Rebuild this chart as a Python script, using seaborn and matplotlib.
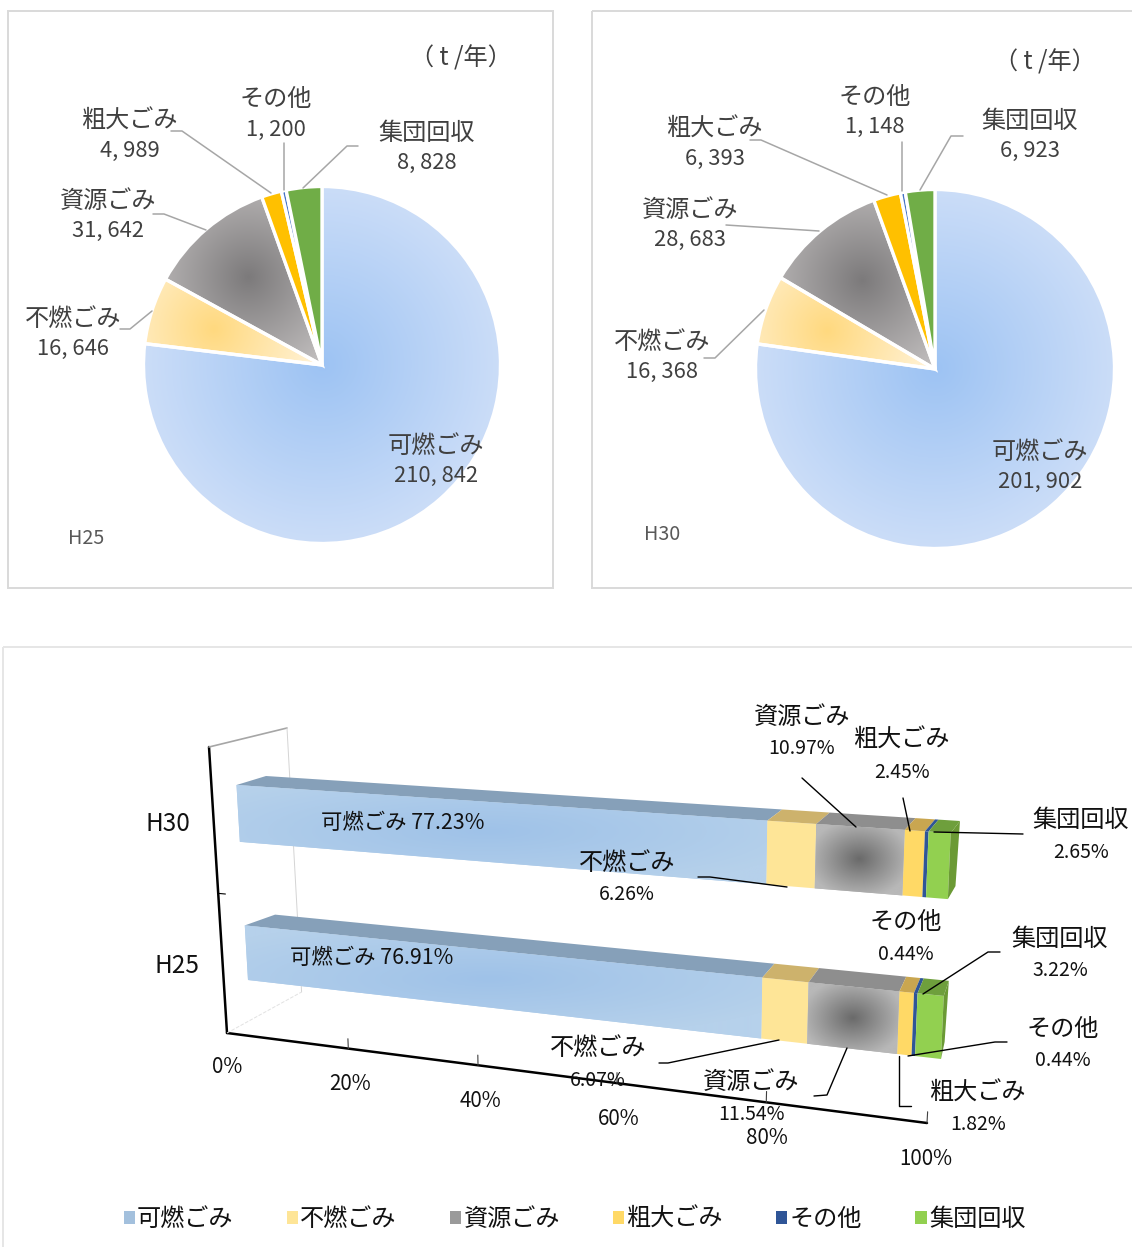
import numpy as np
import matplotlib
matplotlib.use("Agg")
import matplotlib.pyplot as plt
import matplotlib.transforms as mtransforms
from matplotlib.colors import LinearSegmentedColormap
from matplotlib.patches import Rectangle, Polygon, Patch
import seaborn as sns

# data
categories = ["可燃ごみ", "不燃ごみ", "資源ごみ", "粗大ごみ", "その他", "集団回収"]
tons_h25 = [210842, 16646, 31642, 4989, 1200, 8828]
tons_h30 = [201902, 16368, 28683, 6393, 1148, 6923]
years = ["H30", "H25"]
share_h30 = [77.23, 6.26, 10.97, 2.45, 0.44, 2.65]
share_h25 = [76.91, 6.07, 11.54, 1.82, 0.44, 3.22]
pct_ticks = [0, 20, 40, 60, 80, 100]

# colours
pie_solid = {"粗大ごみ": "#FFC000", "その他": "#4472C4", "集団回収": "#70AD47"}
pie_grad = {"可燃ごみ": ("#9DC3F3", "#CBDDF8", 1.0),
            "不燃ごみ": ("#FFD97F", "#FFF3D9", 0.62),
            "資源ごみ": ("#7C7A7B", "#C2BFBF", 0.62)}
front_cols = ["#B0CDE9", "#FEE597", "#B4B4B4", "#FFD966", "#2F5597", "#92D050"]
top_cols = ["#86A0B9", "#CDB26C", "#8E8E8E", "#C9A650", "#2F5597", "#6E9F3C"]
legend_cols = ["#A3C0DD", "#FEE597", "#9A9A9A", "#FFD966", "#2F5597", "#92D050"]

W, H = 1132, 1247
sns.set_theme(style="white")
plt.rcParams["font.family"] = ["Noto Sans CJK JP", "DejaVu Sans"]

fig = plt.figure(figsize=(W / 100, H / 100), dpi=100, facecolor="white")


def radial(d, inner, outer):
    cmap = LinearSegmentedColormap.from_list("g", [inner, outer])
    return cmap(np.clip(d, 0, 1))


def draw_pie(values, cx, cy, r):
    m = 4
    ax = fig.add_axes([(cx - r - m) / W, 1 - (cy + r + m) / H, 2 * (r + m) / W, 2 * (r + m) / H], zorder=1)
    wedges, _ = ax.pie(values, startangle=90, counterclock=False, radius=1,
                       colors=[pie_solid.get(c, "white") for c in categories],
                       wedgeprops={"edgecolor": "white", "linewidth": 2.4})
    lim = 1 + m / r
    xx, yy = np.meshgrid(np.linspace(-lim, lim, 400), np.linspace(lim, -lim, 400))
    for wedge, cat in zip(wedges, categories):
        wedge.set_zorder(3)
        if cat not in pie_grad:
            continue
        inner, outer, reach = pie_grad[cat]
        if cat == "可燃ごみ":
            gx, gy = 0.0, 0.0
        else:
            mid = np.radians((wedge.theta1 + wedge.theta2) / 2)
            gx, gy = 0.64 * np.cos(mid), 0.64 * np.sin(mid)
        img = radial(np.hypot(xx - gx, yy - gy) / reach, inner, outer)
        im = ax.imshow(img, extent=(-lim, lim, -lim, lim), zorder=2, interpolation="bilinear")
        im.set_clip_path(wedge.get_path(), wedge.get_transform())
        wedge.set_facecolor("none")
    ax.set_xlim(-lim, lim)
    ax.set_ylim(-lim, lim)
    ax.set_axis_off()


draw_pie(tons_h25, 322, 365, 178.5)
draw_pie(tons_h30, 935, 369, 179.5)


# perspective for the 3D looking bars
def homography(src, dst):
    a = []
    b = []
    for (x, y), (u, v) in zip(src, dst):
        a.append([x, y, 1, 0, 0, 0, -u * x, -u * y])
        a.append([0, 0, 0, x, y, 1, -v * x, -v * y])
        b += [u, v]
    return np.append(np.linalg.solve(np.array(a, float), np.array(b, float)), 1).reshape(3, 3)


class Persp(mtransforms.Transform):
    input_dims = 2
    output_dims = 2

    def __init__(self, m):
        super().__init__()
        self.m = m

    def transform_non_affine(self, xy):
        xy = np.asarray(xy, float)
        p = np.column_stack([xy, np.ones(len(xy))]) @ self.m.T
        return p[:, :2] / p[:, 2:]


corners = [(0, -0.2), (0, 1.2), (100, -0.2), (100, 1.2)]
front = Persp(homography(corners, [(236.5, 785), (248, 980), (950.7, 833), (941, 1059)]))
back = Persp(homography(corners, [(266, 776), (278.6, 968), (960, 821), (944.6, 1042)]))
axis_plane = Persp(homography([(0, -0.5), (0, 1.5), (100, -0.5), (100, 1.5)],
                              [(209, 747), (227, 1033), (946, 784), (927, 1123)]))

px = fig.add_axes([0, 0, 1, 1], zorder=2)
px.patch.set_visible(False)
px.set_axis_off()

bar_ax = fig.add_axes([0, 0, 1, 1], zorder=1)
bar_ax.patch.set_visible(False)
shares = np.array([share_h30, share_h25])
lefts = np.hstack([np.zeros((2, 1)), np.cumsum(shares, axis=1)[:, :-1]])
for i, cat in enumerate(categories):
    n = len(bar_ax.patches)
    sns.barplot(x=shares[:, i], y=years, left=lefts[:, i], color=front_cols[i], saturation=1,
                width=0.4, orient="y", errorbar=None, ax=bar_ax)
    for bar in bar_ax.patches[n:]:
        bar.set_transform(front + px.transData)
        bar.set_clip_on(False)
        bar.set_linewidth(0)
all_bars = list(bar_ax.patches)
bar_ax.set_axis_off()

# top faces, end faces
for row in range(2):
    top = row - 0.2
    for i in range(len(categories)):
        a, b = lefts[row, i], lefts[row, i] + shares[row, i]
        pts = np.vstack([front.transform_non_affine(np.array([[a, top], [b, top]])),
                         back.transform_non_affine(np.array([[b, top], [a, top]]))])
        px.add_patch(Polygon(pts, closed=True, facecolor=top_cols[i], edgecolor="none", zorder=1))
    side = np.vstack([front.transform_non_affine(np.array([[100, top], [100, top + 0.4]])),
                      back.transform_non_affine(np.array([[100, top + 0.4], [100, top]]))])
    px.add_patch(Polygon(side, closed=True, facecolor="#6B9A35", edgecolor="none", zorder=1))

# gradient on the blue and grey front faces
for row in range(2):
    for i, inner, outer, rx, ry in [(0, "#9FC2E8", "#B6D1EB", 330, 60), (2, "#6A6A6A", "#B8B8B8", 52, 40)]:
        bar = all_bars[i * 2 + row]
        a, b = lefts[row, i], lefts[row, i] + shares[row, i]
        quad = front.transform_non_affine(np.array([[a, row - 0.2], [b, row - 0.2], [b, row + 0.2], [a, row + 0.2]]))
        gc = front.transform_non_affine(np.array([[(a + b) / 2, float(row)]]))[0]
        x0, y0 = quad.min(axis=0) - 3
        x1, y1 = quad.max(axis=0) + 3
        xx, yy = np.meshgrid(np.linspace(x0, x1, 500), np.linspace(y0, y1, 120))
        img = radial(np.hypot((xx - gc[0]) / rx, (yy - gc[1]) / ry), inner, outer)
        im = px.imshow(img, extent=(x0, x1, y1, y0), aspect="auto", zorder=2, interpolation="bilinear")
        im.set_clip_path(bar.get_path(), bar.get_transform())

# axis lines
axis_tr = axis_plane + px.transData
bar_ax.plot([0, 100], [1.5, 1.5], color="black", lw=1.8, transform=axis_tr, clip_on=False)
bar_ax.plot([0, 0], [-0.5, 1.5], color="black", lw=1.8, transform=axis_tr, clip_on=False)
bar_ax.plot([0, 1.2], [0.5, 0.5], color="black", lw=0.8, transform=axis_tr, clip_on=False)
for t in pct_ticks[1:]:
    bar_ax.plot([t, t], [1.43, 1.5], color="#404040", lw=0.8, transform=axis_tr, clip_on=False)
bar_ax.set_xlim(0, 100)
bar_ax.set_ylim(1.5, -0.5)

# 3D box back wall
px.plot([209, 287], [747, 728], color="#A6A6A6", lw=1.2, zorder=0.5)
px.plot([287, 301.6], [728, 992], color="#D4D4D4", lw=0.7, zorder=0.5)
px.plot([227, 301.6], [1033, 992], color="#E2E2E2", lw=0.7, ls="--", zorder=0.5)

# panel borders
for x0, y0, x1, y1, c in [(8, 11, 553, 588, "#D9D9D9"), (592, 11, 1140, 588, "#D9D9D9"),
                          (3, 647, 1140, 1255, "#E6E6E6")]:
    px.add_patch(Rectangle((x0, y0), x1 - x0, y1 - y0, fill=False, edgecolor=c, lw=1.4, zorder=0.5))


def jp(x, y, s, color="#404040", size=17.4):
    px.text(x, y + 2, s, ha="center", va="center", fontsize=size, color=color, zorder=6)


def num(x, y, s, color="#404040", size=15.8):
    px.text(x, y + 2, s, ha="center", va="center", fontsize=size, color=color, zorder=6)


def pair(x, y_top, y_bot, name, s, color="#404040", size=15.8):
    jp(x, y_top, name, color)
    num(x, y_bot, s, color, size)


def fmt(v):
    return f"{v:,}".replace(",", ", ")


# pie labels
pie_pos_h25 = [(436, 444, 474), (73, 317, 347), (108, 199, 229), (130, 119, 149), (276, 97, 128), (427, 131, 161)]
pie_pos_h30 = [(1040, 450, 480), (662, 340, 370), (690, 208, 238), (715, 127, 157), (875, 95, 125), (1030, 119, 149)]
for pos, vals in [(pie_pos_h25, tons_h25), (pie_pos_h30, tons_h30)]:
    for (x, y0, y1), cat, v in zip(pos, categories, vals):
        pair(x, y0, y1, cat, fmt(v))
jp(461, 57, "（ t /年）", size=17.4)
jp(1045, 61, "（ t /年）", size=17.4)
num(86, 537, "H25", "#595959", 14.2)
num(662, 532, "H30", "#595959", 14.2)

pie_leaders = [
    [(171, 131), (182, 131), (271, 193)],
    [(284, 143), (284, 190)],
    [(358, 146), (347, 146), (303, 188)],
    [(153, 214), (164, 214), (206, 230)],
    [(120, 329), (130, 329), (152, 311)],
    [(750, 140), (761, 140), (887, 195)],
    [(902, 142), (902, 191)],
    [(963, 136), (951, 136), (920, 190)],
    [(726, 225), (819, 231)],
    [(704, 358), (715, 358), (764, 310)],
]
for line in pie_leaders:
    xs, ys = zip(*line)
    px.plot(xs, ys, color="#A6A6A6", lw=1.1, zorder=5)

# bar labels
bar_pos_h30 = {"不燃ごみ": (627, 861, 893), "資源ごみ": (802, 715, 747), "粗大ごみ": (902, 738, 770),
               "その他": (906, 920, 952), "集団回収": (1081, 818, 850)}
bar_pos_h25 = {"不燃ごみ": (598, 1046, 1078), "資源ごみ": (751, 1080, 1112), "粗大ごみ": (978, 1091, 1123),
               "その他": (1063, 1027, 1058), "集団回収": (1060, 937, 969)}
for pos, vals in [(bar_pos_h30, share_h30), (bar_pos_h25, share_h25)]:
    for cat, v in zip(categories, vals):
        if cat in pos:
            x, y0, y1 = pos[cat]
            pair(x, y0, y1, cat, f"{v:.2f}%", "#111111", 14)

px.text(403, 823, f"可燃ごみ {share_h30[0]:.2f}%", ha="center", va="center", fontsize=15.4, color="#111111", zorder=6)
px.text(372, 958, f"可燃ごみ {share_h25[0]:.2f}%", ha="center", va="center", fontsize=15.4, color="#111111", zorder=6)

num(168, 822, years[0], "#111111", 17.5)
num(177, 964, years[1], "#111111", 17.5)
tick_pos = [(227, 1065), (350, 1082), (480, 1099), (619, 1117), (767, 1136), (926, 1157)]
for (x, y), t in zip(tick_pos, pct_ticks):
    num(x, y, f"{t}%", "#111111", 14.8)

bar_leaders = [
    [(802, 778), (856, 827)],
    [(903, 798), (910, 831)],
    [(1023, 834), (934, 832)],
    [(698, 877), (710, 877), (787, 887)],
    [(1000, 952), (988, 952), (923, 994)],
    [(1007, 1042), (995, 1042), (908, 1056)],
    [(899, 1056), (899, 1106), (911, 1106)],
    [(847, 1048), (827, 1095), (814, 1096)],
    [(779, 1040), (668, 1063), (659, 1063)],
]
for line in bar_leaders:
    xs, ys = zip(*line)
    px.plot(xs, ys, color="black", lw=1.0, zorder=5)

# legend
handles = [Patch(facecolor=c, edgecolor="none") for c in legend_cols]
px.legend(handles, categories, loc="center", bbox_to_anchor=(574.5, 1219), bbox_transform=px.transData,
          ncol=6, frameon=False, fontsize=17.4, handlelength=0.46, handleheight=0.5, handletextpad=0.1,
          columnspacing=2.2, borderpad=0, labelcolor="#111111")

px.set_xlim(0, W)
px.set_ylim(H, 0)

fig.savefig("out.png", dpi=100)
